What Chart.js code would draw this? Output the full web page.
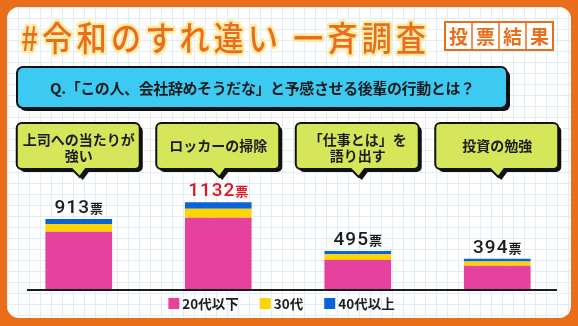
<!DOCTYPE html>
<html><head><meta charset="utf-8">
<script src="https://cdn.jsdelivr.net/npm/chart.js@4.4.1/dist/chart.umd.min.js"></script>
<style>html,body{margin:0;padding:0;background:#fff;overflow:hidden}canvas{display:block}</style>
</head><body>
<canvas id="c" width="578" height="326"></canvas>
<script>
// ---- data ----
const categories = [["上司への当たりが","強い"],["ロッカーの掃除"],["「仕事とは」を","語り出す"],["投資の勉強"]];
const seriesNames = ["20代以下","30代","40代以上"];
const under20s = [747, 929, 378, 302];
const thirties = [101, 119, 75, 56];
const forties  = [65, 84, 42, 36];
const voteUnit = "票";
const highlightIndex = 1;
const titleText = "#令和のすれ違い 一斉調査";
const badgeText = "投票結果";
const questionText = "Q.「この人、会社辞めそうだな」と予感させる後輩の行動とは？";

// ---- style ----
const C = { orange:'#EA6E1A', pink:'#E6419F', yellow:'#FFD400', blue:'#0B63D6',
  grid:'#E1EEF8', cyan:'#3CCAF3', lime:'#D5E65B', ink:'#1c1c1c', red:'#E0141E', cream:'#FFEBA8' };
const JP = '"Noto Sans CJK JP","Noto Sans",sans-serif';

function rr(ctx,x,y,w,h,r){ctx.beginPath();ctx.moveTo(x+r,y);ctx.lineTo(x+w-r,y);ctx.arcTo(x+w,y,x+w,y+r,r);
  ctx.lineTo(x+w,y+h-r);ctx.arcTo(x+w,y+h,x+w-r,y+h,r);ctx.lineTo(x+r,y+h);ctx.arcTo(x,y+h,x,y+h-r,r);
  ctx.lineTo(x,y+r);ctx.arcTo(x,y,x+r,y,r);ctx.closePath();}
function bubblePath(ctx,x,y,w,h,r,px){ // rounded rect with pointer at bottom
  ctx.beginPath();ctx.moveTo(x+r,y);ctx.lineTo(x+w-r,y);ctx.arcTo(x+w,y,x+w,y+r,r);
  ctx.lineTo(x+w,y+h-r);ctx.arcTo(x+w,y+h,x+w-r,y+h,r);
  ctx.lineTo(px+7,y+h);ctx.lineTo(px+1,y+h+8);ctx.lineTo(px-7,y+h);
  ctx.lineTo(x+r,y+h);ctx.arcTo(x,y+h,x,y+h-r,r);ctx.lineTo(x,y+r);ctx.arcTo(x,y,x+r,y,r);ctx.closePath();}
function fitText(ctx,text,x0,width,y,stroke){ // distribute chars to fill width
  const chars=[...text]; const ws=chars.map(c=>ctx.measureText(c).width);
  const tot=ws.reduce((a,b)=>a+b,0); const gap=(width-tot)/(chars.length-1); let x=x0;
  chars.forEach((c,i)=>{ if(stroke) ctx.strokeText(c,x,y); else ctx.fillText(c,x,y); x+=ws[i]+gap; });
}

const decor = {
  id:'decor',
  beforeDraw(chart){
    const ctx=chart.ctx; const W=chart.width, H=chart.height;
    ctx.save();
    ctx.fillStyle=C.orange; ctx.fillRect(0,0,W,H);
    rr(ctx,7,7,564,311,12); ctx.fillStyle='#fff'; ctx.fill();
    ctx.save(); rr(ctx,7,7,564,311,12); ctx.clip();
    ctx.strokeStyle=C.grid; ctx.lineWidth=1;
    for(let x=7;x<572;x+=11){ctx.beginPath();ctx.moveTo(x+0.5,7);ctx.lineTo(x+0.5,318);ctx.stroke();}
    for(let y=7;y<319;y+=11){ctx.beginPath();ctx.moveTo(7,y+0.5);ctx.lineTo(571,y+0.5);ctx.stroke();}
    ctx.restore();
    // title
    ctx.save(); ctx.translate(0,38); ctx.scale(1,1.12);
    ctx.font='500 30px '+JP; ctx.textBaseline='middle'; ctx.textAlign='left';
    ctx.lineJoin='round'; ctx.strokeStyle=C.cream; ctx.lineWidth=4.5;
    fitText(ctx,titleText,21,405,0,true);
    ctx.fillStyle=C.orange; fitText(ctx,titleText,21,405,0,false);
    ctx.restore();
    // badge
    const bx=445,by=22,bw=27,bh=28;
    ctx.fillStyle='#fff'; ctx.fillRect(bx,by,bw*4,bh);
    ctx.strokeStyle=C.orange; ctx.lineWidth=2; ctx.strokeRect(bx,by,bw*4,bh);
    ctx.lineWidth=1.5;
    for(let i=1;i<4;i++){ctx.beginPath();ctx.moveTo(bx+bw*i,by);ctx.lineTo(bx+bw*i,by+bh);ctx.stroke();}
    ctx.fillStyle=C.orange; ctx.font='bold 19px '+JP; ctx.textAlign='center'; ctx.textBaseline='middle';
    [...badgeText].forEach((c,i)=>ctx.fillText(c,bx+bw*i+bw/2,by+bh/2+1));
    // question box
    ctx.fillStyle='#111'; rr(ctx,20,70,490,41,6); ctx.fill();
    rr(ctx,17,67,490,41,6); ctx.fillStyle=C.cyan; ctx.fill(); ctx.lineWidth=2; ctx.strokeStyle='#111'; ctx.stroke();
    ctx.fillStyle=C.ink; ctx.font='bold 15px '+JP; ctx.textAlign='left'; ctx.textBaseline='middle';
    fitText(ctx,questionText,50,425,88,false);
    // bubbles
    const xs=chart.scales.x;
    chart.data.labels.forEach((lab,i)=>{
      const cx=xs.getPixelForValue(i); const x=cx-62, y=123, w=123, h=46;
      ctx.fillStyle='#111'; ctx.save(); ctx.translate(3,3); bubblePath(ctx,x,y,w,h,5,cx); ctx.fill(); ctx.restore();
      bubblePath(ctx,x,y,w,h,5,cx); ctx.fillStyle=C.lime; ctx.fill(); ctx.lineWidth=2; ctx.strokeStyle='#111'; ctx.stroke();
      ctx.fillStyle=C.ink; ctx.font='bold 14px '+JP; ctx.textAlign='center'; ctx.textBaseline='middle';
      const lines=Array.isArray(lab)?lab:[lab];
      if(lines.length===1) ctx.fillText(lines[0],cx,146);
      else lines.forEach((t,k)=>ctx.fillText(t,cx,140+k*16));
    });
    ctx.restore();
  },
  afterDatasetsDraw(chart){
    const ctx=chart.ctx; ctx.save();
    // axis line
    ctx.fillStyle='#1a1a1a'; ctx.fillRect(27,289,530,2);
    // totals
    const xs=chart.scales.x, ys=chart.scales.y;
    chart.data.labels.forEach((lab,i)=>{
      const total=chart.data.datasets.reduce((s,d)=>s+d.data[i],0);
      const cx=xs.getPixelForValue(i); const top=ys.getPixelForValue(total);
      const num=String(total);
      ctx.font='500 19px Roboto'; const wn=ctx.measureText(num).width+ (num.length-1)*1;
      ctx.font='bold 13px '+JP; const wu=ctx.measureText(voteUnit).width;
      const x0=cx-(wn+wu+1)/2, yb=top-6;
      ctx.fillStyle= i===highlightIndex? C.red : C.ink; ctx.textBaseline='alphabetic'; ctx.textAlign='left';
      ctx.font='500 19px Roboto'; let x=x0;
      for(const ch of num){ctx.fillText(ch,x,yb); x+=ctx.measureText(ch).width+1;}
      ctx.font='bold 13px '+JP; ctx.fillText(voteUnit,x0+wn+1,yb);
    });
    // legend
    ctx.font='bold 13.5px '+JP; ctx.textBaseline='middle';
    const items=chart.data.datasets.map(d=>({t:d.label,c:d.backgroundColor,w:ctx.measureText(d.label).width}));
    const box=11, g1=3, g2=21;
    const total=items.reduce((s,it)=>s+box+g1+it.w,0)+g2*(items.length-1);
    let x=281.5-total/2; const yc=303.5;
    items.forEach(it=>{ctx.fillStyle=it.c; ctx.fillRect(x,yc-5.5,box,box); x+=box+g1;
      ctx.fillStyle=C.ink; ctx.fillText(it.t,x,yc+0.5); x+=it.w+g2;});
    ctx.restore();
  }
};

new Chart(document.getElementById('c').getContext('2d'), {
  type:'bar',
  data:{ labels:categories, datasets:[
    {label:seriesNames[0], data:under20s, backgroundColor:C.pink},
    {label:seriesNames[1], data:thirties, backgroundColor:C.yellow},
    {label:seriesNames[2], data:forties,  backgroundColor:C.blue}]},
  options:{ responsive:false, animation:false, devicePixelRatio:1,
    layout:{padding:{left:9,right:11,top:151,bottom:37}},
    datasets:{bar:{categoryPercentage:1, barPercentage:0.478, borderWidth:0}},
    scales:{ x:{stacked:true, display:false}, y:{stacked:true, display:false, min:0, max:1800} },
    plugins:{ legend:{display:false}, tooltip:{enabled:false} } },
  plugins:[decor]
});
</script>
</body></html>
